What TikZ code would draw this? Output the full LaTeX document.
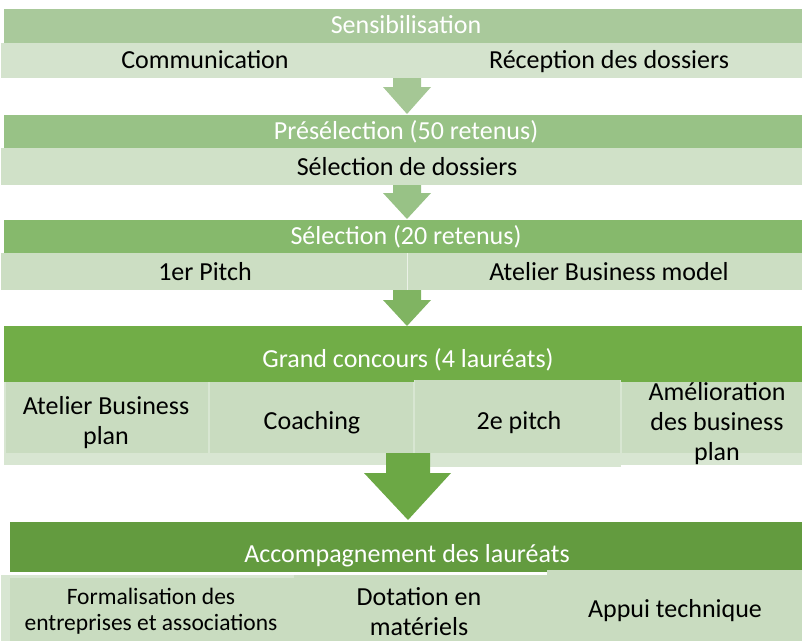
\documentclass[tikz,border=0pt]{standalone}
\usepackage{fontspec}
\setmainfont{Carlito}
\definecolor{hA}{HTML}{A9C99B}
\definecolor{hB}{HTML}{98C286}
\definecolor{hC}{HTML}{86B96C}
\definecolor{hD}{HTML}{71AD47}
\definecolor{hE}{HTML}{639B3F}
\definecolor{sA}{HTML}{D4E3CD}
\definecolor{sB}{HTML}{D0E1C8}
\definecolor{sC}{HTML}{CCDEC3}
\definecolor{sD}{HTML}{C9DCC0}
\definecolor{sL}{HTML}{D8E6D2}
\definecolor{aA}{HTML}{A5C795}
\definecolor{aB}{HTML}{98C286}
\definecolor{aC}{HTML}{80B462}
\definecolor{aD}{HTML}{6CA845}
\begin{document}
\begin{tikzpicture}[x=1pt,y=-1pt,
  hd/.style={text=white, font=\fontsize{26}{30}\selectfont, inner sep=0pt, anchor=base},
  tx/.style={text=black, font=\fontsize{26}{30}\selectfont, inner sep=0pt, anchor=base},
  ml/.style={text=black, font=\fontsize{26}{30}\selectfont, inner sep=0pt, align=center},
  sm/.style={text=black, font=\fontsize{23.5}{26}\selectfont, inner sep=0pt, align=center}]
\useasboundingbox (0,0) rectangle (802,641);
% band 1
\fill[hA] (4,9) rectangle (802,43);
\fill[sA] (1,43) rectangle (802,78);
\node[hd] (h1) at (406,33) {Sensibilisation};
\node[tx] (c1) at (205,68) {Communication};
\node[tx] (r1) at (609,68) {Réception des dossiers};
% arrow 1
\fill[aA] (393,78) -- (421,78) -- (421,87) -- (431,87) -- (407,114) -- (383,87) -- (393,87) -- cycle;
% band 2
\fill[hB] (4,115) rectangle (802,148);
\fill[sB] (1,148) rectangle (802,185);
\node[hd] (h2) at (406,139) {Présélection (50 retenus)};
\node[tx] (s2) at (407,175) {Sélection de dossiers};
% arrow 2
\fill[aB] (393,185) -- (421,185) -- (421,193) -- (431,193) -- (407,219) -- (383,193) -- (393,193) -- cycle;
% band 3
\fill[hC] (4,220) rectangle (802,253);
\fill[sC] (1,253) rectangle (802,290);
\draw[white!60!sC, line width=0.8pt] (407,253) -- (407,290);
\node[hd] (h3) at (406,244) {Sélection (20 retenus)};
\node[tx] (p3) at (205,280) {1er Pitch};
\node[tx] (b3) at (609,280) {Atelier Business model};
% arrow 3
\fill[aC] (393,290) -- (421,290) -- (421,300) -- (431,300) -- (407,326) -- (383,300) -- (393,300) -- cycle;
% band 4
\fill[hD] (4,326) rectangle (802,382);
\node[hd] (h4) at (408,367) {Grand concours (4 lauréats)};
\fill[sL] (4,382) rectangle (209,465);
\fill[sL] (209,382) rectangle (414,465);
\fill[sL] (414,380) rectangle (621,467);
\fill[sL] (621,382) rectangle (802,465);
% arrow 4
\fill[aD] (386,453) -- (430,453) -- (430,473) -- (451,473) -- (408,520) -- (364,473) -- (386,473) -- cycle;
\fill[sD] (6,382) rectangle (208,453);
\fill[sD] (210,382) rectangle (413,453);
\fill[sD] (415,380) rectangle (620,453);
\fill[sD] (622,382) rectangle (802,453);
\node[ml] (a4) at (106,423) {Atelier Business\\plan};
\node[ml] (k4) at (312,423) {Coaching};
\node[ml] (p4) at (519,423) {2e pitch};
\node[ml] (m4) at (717,424) {Amélioration\\des business\\plan};
% band 5
\fill[hE] (10,522) rectangle (802,572);
\node[hd] (h5) at (407,562) {Accompagnement des lauréats};
\fill[sL] (1,575) rectangle (294,641);
\fill[sD] (10,578) rectangle (294,641);
\fill[sD] (294,575) rectangle (547,641);
\fill[sD] (547,570) rectangle (802,641);
\node[sm] (f5) at (151,611) {Formalisation des\\entreprises et associations};
\node[ml] (d5) at (419,612) {Dotation en\\matériels};
\node[tx] (t5) at (675,617) {Appui technique};
\end{tikzpicture}
\end{document}
